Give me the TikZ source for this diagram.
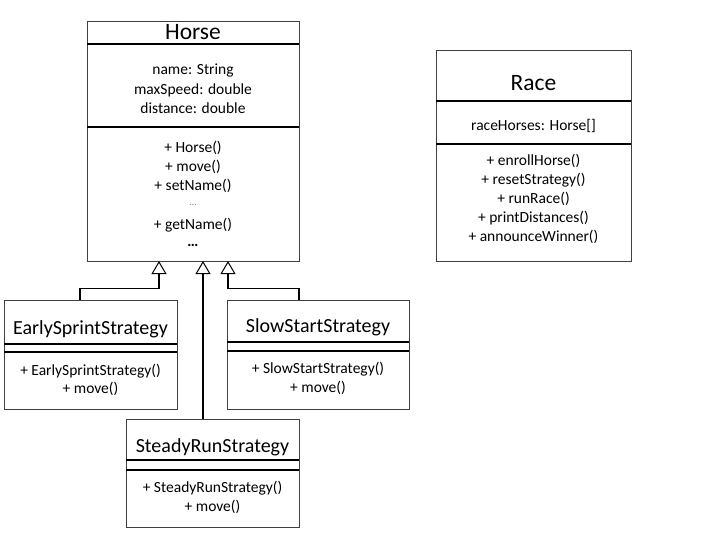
\documentclass[tikz,border=0pt]{standalone}
\usepackage{fontspec}
\setmainfont{Carlito}
\usetikzlibrary{arrows.meta}
\begin{document}
\begin{tikzpicture}[x=1pt,y=-1pt]

\tikzstyle{classbox}=[rectangle,draw=black!75,line width=0.9pt,inner sep=0pt]
\tikzstyle{divider}=[line width=1.6pt]
\tikzstyle{member}=[font=\fontsize{15.5}{17}\selectfont,inner sep=0pt]
\tikzstyle{bigtitle}=[font=\fontsize{23.5}{25}\selectfont,inner sep=0pt]
\tikzstyle{subtitle}=[font=\fontsize{20}{22}\selectfont,inner sep=0pt]
\tikzstyle{inherit}=[line width=1.8pt,-{Triangle[open,length=13pt,width=15pt,line width=1pt]}]

\useasboundingbox (0,0) rectangle (720,540);

% Horse
\node[classbox,minimum width=212pt,minimum height=240pt] (horse) at (193,141) {};
\draw[divider] (87,44) -- (299,44);
\draw[divider] (87,127) -- (299,127);
\node[bigtitle] (horseT) at (193,32) {Horse};
\node[member] (horseA1) at (193,71) {name: String};
\node[member] (horseA2) at (193,90) {maxSpeed: double};
\node[member] (horseA3) at (193,108) {distance: double};
\foreach \i/\y/\txt in {1/148/+ Horse(),2/167/+ move(),3/186/+ setName(),5/225/+ getName()}
  \node[member] (horseM\i) at (193,\y) {\txt};
\node[member,text=black!50,font=\fontsize{10}{11}\selectfont] (horseM4) at (193,205) {\ldots};
\node[member] (horseM6) at (193,245) {\textbf{\ldots}};

% Race
\node[classbox,minimum width=195pt,minimum height=211pt] (race) at (533.5,155.5) {};
\draw[divider] (436,101) -- (631,101);
\draw[divider] (436,144) -- (631,144);
\node[bigtitle] (raceT) at (533.5,83) {Race};
\node[member] (raceA1) at (533.5,126) {raceHorses: Horse[]};
\foreach \i/\y/\txt in {1/161/+ enrollHorse(),2/180/+ resetStrategy(),3/199/+ runRace(),4/218/+ printDistances(),5/237/+ announceWinner()}
  \node[member] (raceM\i) at (533.5,\y) {\txt};

% strategies
\node[classbox,minimum width=173pt,minimum height=109pt] (early) at (90.5,354.5) {};
\draw[divider] (4,344) -- (177,344);
\draw[divider] (4,352) -- (177,352);
\node[subtitle] (earlyT) at (90.5,329) {EarlySprintStrategy};
\node[member] (earlyM1) at (90.5,371) {+ EarlySprintStrategy()};
\node[member] (earlyM2) at (90.5,389) {+ move()};

\node[classbox,minimum width=182pt,minimum height=109pt] (slow) at (318,354.5) {};
\draw[divider] (227,342) -- (409,342);
\draw[divider] (227,351) -- (409,351);
\node[subtitle] (slowT) at (318,327) {SlowStartStrategy};
\node[member] (slowM1) at (318,369) {+ SlowStartStrategy()};
\node[member] (slowM2) at (318,388) {+ move()};

\node[classbox,minimum width=173pt,minimum height=108pt] (steady) at (212.5,473) {};
\draw[divider] (126,460) -- (299,460);
\draw[divider] (126,470) -- (299,470);
\node[subtitle] (steadyT) at (212.5,447) {SteadyRunStrategy};
\node[member] (steadyM1) at (212.5,488) {+ SteadyRunStrategy()};
\node[member] (steadyM2) at (212.5,507) {+ move()};

% inheritance
\coordinate (tipA) at (159,261);
\coordinate (tipB) at (203,261);
\coordinate (tipC) at (228,261);
\draw[inherit] ([xshift=-10.5pt]early.north) -- ++(0,-11) -| (tipA);
\draw[inherit] ([xshift=-9.5pt]steady.north) -- (tipB);
\draw[inherit] ([xshift=-19pt]slow.north) -- ++(0,-11) -| (tipC);
\end{tikzpicture}
\end{document}
